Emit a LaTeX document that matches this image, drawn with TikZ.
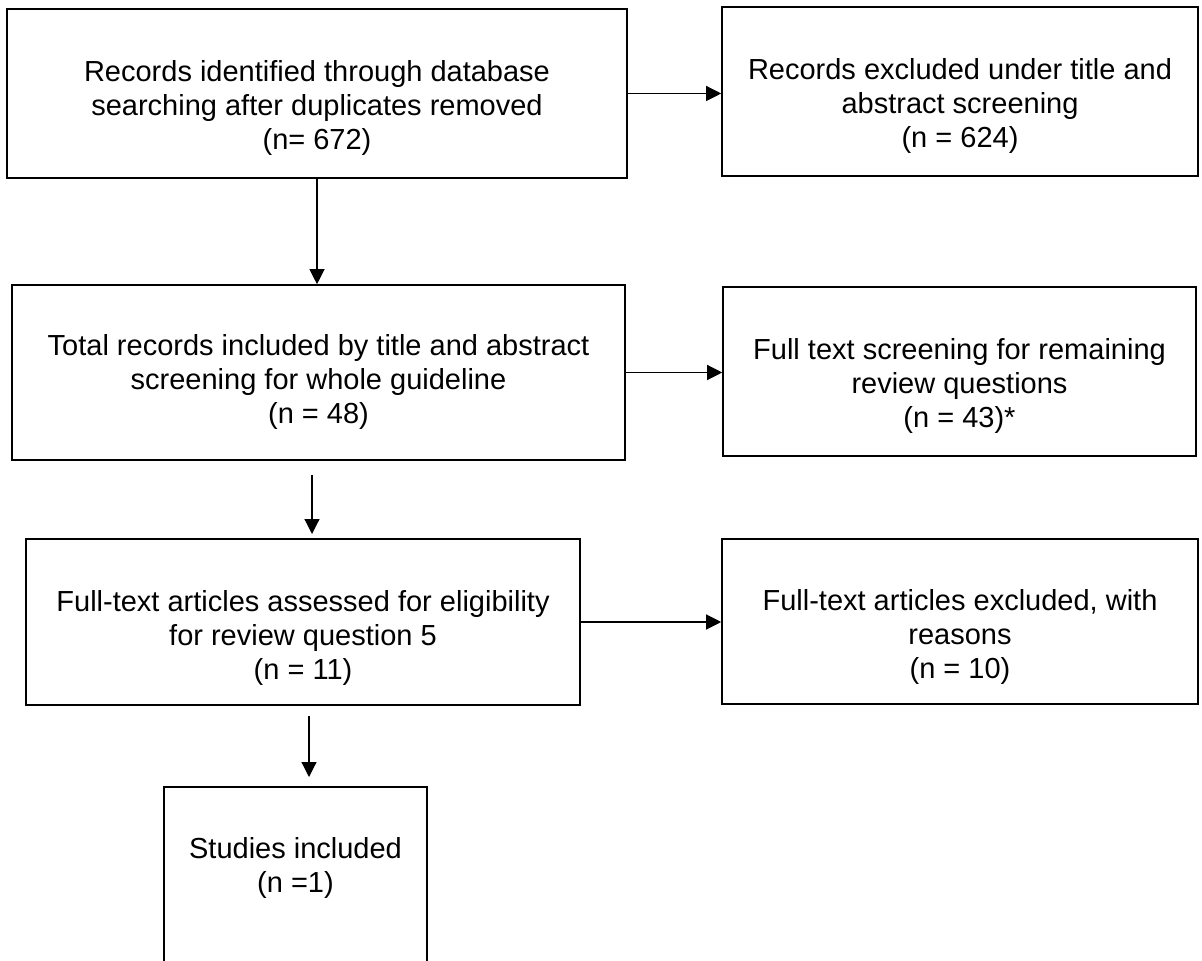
\documentclass[tikz,border=0pt]{standalone}
\usepackage{fontspec}
\setmainfont{Liberation Sans}
\usetikzlibrary{arrows.meta,positioning,calc}
\tikzset{
    box/.style={draw, line width=0.8pt, inner sep=0pt},
    boxtext/.style={align=center, inner sep=0pt, font=\fontsize{14.5}{17}\selectfont},
    arr/.style={-{Triangle[length=7.5pt,width=7.5pt]}, line width=0.6pt},
}
\begin{document}
\begin{tikzpicture}[x=0.5pt, y=-0.5pt]
    \useasboundingbox (0,0) rectangle (1202,961);
    % Draw boxes
    \node [box, minimum width=310pt, minimum height=84.5pt] (recs) at (317, 93.5) {};
    \node [box, minimum width=238pt, minimum height=84.5pt] (excl) at (960, 91.5) {};
    \node [box, minimum width=306.5pt, minimum height=87.5pt] (incl) at (318.5, 372.5) {};
    \node [box, minimum width=236.5pt, minimum height=84.5pt] (ftscr) at (959.5, 371.5) {};
    \node [box, minimum width=277pt, minimum height=83pt] (asmt) at (303, 622) {};
    \node [box, minimum width=238pt, minimum height=82.5pt] (ftex) at (960, 621.5) {};
    \node [box, minimum width=131.5pt, minimum height=106.5pt] (stud) at (295.5, 893.5) {};
    % Box texts
    \node [boxtext, below=26pt of recs.north] (lrecs) {Records identified through database\\searching after duplicates removed\\(n= 672)};
    \node [boxtext, below=26pt of excl.north] (lexcl) {Records excluded under title and\\abstract screening\\(n = 624)};
    \node [boxtext, below=25pt of incl.north] (lincl) {Total records included by title and abstract\\screening for whole guideline\\(n = 48)};
    \node [boxtext, below=26pt of ftscr.north] (lftscr) {Full text screening for remaining\\review questions\\(n = 43)*};
    \node [boxtext, below=26pt of asmt.north] (lasmt) {Full-text articles assessed for eligibility\\for review question 5\\(n = 11)};
    \node [boxtext, below=25.5pt of ftex.north] (lftex) {Full-text articles excluded, with\\reasons\\(n = 10)};
    \node [boxtext, below=25.5pt of stud.north] (lstud) {Studies included\\(n =1)};
    % Draw arrows
    \coordinate (incl-out) at (312, 475);
    \coordinate (asmt-in) at (312, 534);
    \coordinate (asmt-out) at (309, 716);
    \coordinate (stud-in) at (309, 777);
    \draw [arr] (recs.east) -- (recs.east -| excl.west);
    \draw [arr] (recs.south) -- (recs.south |- incl.north);
    \draw [arr] (incl.east) -- (incl.east -| ftscr.west);
    \draw [arr] (incl-out) -- (asmt-in);
    \draw [arr] (asmt.east) -- (asmt.east -| ftex.west);
    \draw [arr] (asmt-out) -- (stud-in);
\end{tikzpicture}
\end{document}
